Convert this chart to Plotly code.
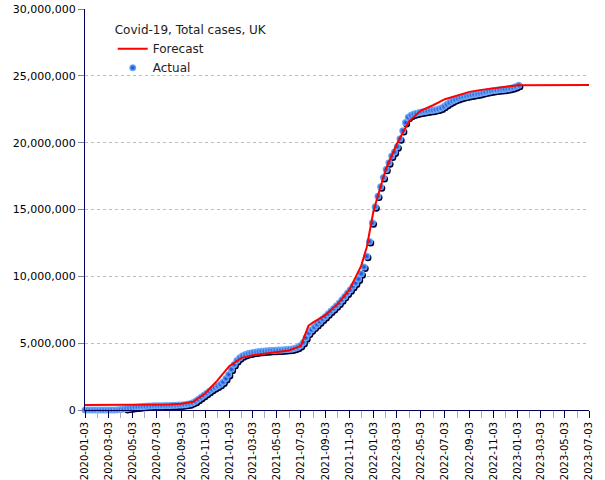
import pandas as pd
import plotly.graph_objects as go

# ---------------- data ----------------
actual_start = "2020-01-03"          # weekly observations (Fridays)
actual_millions = [
    # 2020
    0, 0, 0, 0, 0,
    0, 0, 0, 0,
    0.0002, 0.0008, 0.004, 0.015,
    0.038, 0.07, 0.11, 0.14,
    0.17, 0.2, 0.23, 0.25, 0.27,
    0.28, 0.29, 0.30, 0.31,
    0.315, 0.32, 0.325, 0.33, 0.335,
    0.34, 0.35, 0.36, 0.37,
    0.38, 0.40, 0.43, 0.47,
    0.55, 0.66, 0.80, 0.95, 1.10,
    1.25, 1.40, 1.55, 1.68,
    1.80, 1.93, 2.10, 2.35,
    # 2021
    2.65, 3.05, 3.40, 3.70, 3.90,
    4.05, 4.15, 4.22, 4.27,
    4.31, 4.34, 4.37, 4.39,
    4.41, 4.43, 4.45, 4.46, 4.47,
    4.48, 4.49, 4.50, 4.52,
    4.54, 4.57, 4.62, 4.69,
    4.82, 5.05, 5.40, 5.75, 6.00,
    6.20, 6.40, 6.60, 6.80,
    7.00, 7.20, 7.40, 7.60,
    7.80, 8.00, 8.25, 8.50, 8.75,
    9.00, 9.25, 9.50, 9.80,
    10.2, 10.7, 11.5, 12.6, 14.0,
    # 2022
    15.2, 16.0, 16.7, 17.4,
    18.0, 18.5, 19.0, 19.3,
    19.7, 20.3, 20.9, 21.5,
    21.9, 22.05, 22.15, 22.2, 22.25,
    22.3, 22.33, 22.36, 22.4,
    22.43, 22.47, 22.52, 22.6,
    22.72, 22.87, 23.0, 23.12, 23.22,
    23.3, 23.37, 23.43, 23.48,
    23.52, 23.56, 23.6, 23.64, 23.68,
    23.73, 23.78, 23.83, 23.87,
    23.9, 23.93, 23.96, 23.98,
    24.0, 24.03, 24.07, 24.12, 24.2,
    # 2023
    24.3,
]

forecast_dates = [
    "2020-01-03", "2020-04-03", "2020-07-03", "2020-08-03", "2020-09-03",
    "2020-10-03", "2020-11-03", "2020-12-03", "2021-01-03", "2021-02-03",
    "2021-03-03", "2021-04-03", "2021-05-03", "2021-06-03", "2021-07-03",
    "2021-07-22", "2021-08-03", "2021-09-03", "2021-10-03", "2021-11-03",
    "2021-12-03", "2021-12-17", "2022-01-03", "2022-02-03", "2022-03-03",
    "2022-04-03", "2022-05-03", "2022-06-03", "2022-07-03", "2022-08-03",
    "2022-09-03", "2022-10-03", "2022-11-03", "2022-12-03", "2023-01-03",
    "2023-07-03",
]
forecast_millions = [
    0.37, 0.37, 0.39, 0.41, 0.46,
    0.62, 1.25, 2.2, 3.3, 3.9,
    4.1, 4.22, 4.32, 4.45, 4.8,
    6.3, 6.55, 7.1, 7.9, 9.0,
    10.8, 12.2, 14.9, 18.0, 19.9,
    21.6, 22.4, 22.8, 23.25, 23.55,
    23.8, 23.95, 24.05, 24.18, 24.3,
    24.32,
]

tick_dates = [
    "2020-01-03", "2020-03-03", "2020-05-03", "2020-07-03", "2020-09-03",
    "2020-11-03", "2021-01-03", "2021-03-03", "2021-05-03", "2021-07-03",
    "2021-09-03", "2021-11-03", "2022-01-03", "2022-03-03", "2022-05-03",
    "2022-07-03", "2022-09-03", "2022-11-03", "2023-01-03", "2023-03-03",
    "2023-05-03", "2023-07-03",
]
y_ticks = [0, 5_000_000, 10_000_000, 15_000_000, 20_000_000, 25_000_000, 30_000_000]

legend_title = "Covid-19, Total cases, UK"
forecast_name = "Forecast"
actual_name = "Actual"

# ---------------- build ----------------
actual_dates = pd.date_range(actual_start, periods=len(actual_millions), freq="7D")
actual = [v * 1_000_000 for v in actual_millions]
forecast = [v * 1_000_000 for v in forecast_millions]

x_range = [pd.Timestamp("2020-01-03"), pd.Timestamp("2023-07-03")]
y_range = [0, 30_000_000]
# shadow layer: same data, drawn through a slightly shifted hidden base scale
shadow_dx = pd.Timedelta(days=3)
shadow_dy = 110_000

NAVY = "#00005a"
FONT = "DejaVu Sans"

fig = go.Figure()

# shadow (base axes x/y, hidden, shifted scale) -> drawn underneath
fig.add_trace(go.Scatter(
    x=actual_dates, y=actual, mode="markers",
    xaxis="x", yaxis="y",
    marker=dict(size=7, color="#000030", line=dict(width=0)),
    showlegend=False, hoverinfo="skip", cliponaxis=False,
))
# main marks on the visible overlay axes x2/y2
fig.add_trace(go.Scatter(
    x=actual_dates, y=actual, mode="markers", name=actual_name,
    xaxis="x2", yaxis="y2",
    marker=dict(size=7, color="#7ab8ff",
                gradient=dict(type="radial", color="#0d3fc8"),
                line=dict(width=0)),
    legendrank=2, cliponaxis=False,
))
fig.add_trace(go.Scatter(
    x=forecast_dates, y=forecast, mode="lines", name=forecast_name,
    xaxis="x2", yaxis="y2",
    line=dict(color="#ff0000", width=2),
    legendrank=1,
))

fig.update_layout(
    width=605, height=480,
    margin=dict(l=85, r=16, t=9, b=70, autoexpand=False),
    paper_bgcolor="white", plot_bgcolor="white",
    font=dict(family=FONT, size=11, color="#000000"),
    showlegend=True,
    legend=dict(
        x=0.055, y=0.976, xanchor="left", yanchor="top",
        bgcolor="rgba(0,0,0,0)", borderwidth=0,
        title=dict(text=legend_title, font=dict(family=FONT, size=12, color="#222222")),
        font=dict(family=FONT, size=12, color="#222222"),
        tracegroupgap=0,
    ),
    xaxis=dict(
        type="date", visible=False, automargin=False,
        range=[x_range[0] - shadow_dx, x_range[1] - shadow_dx],
    ),
    yaxis=dict(
        visible=False, automargin=False,
        range=[y_range[0] + shadow_dy, y_range[1] + shadow_dy],
    ),
    xaxis2=dict(
        type="date", overlaying="x", anchor="y2", side="bottom",
        range=x_range, automargin=False,
        tickvals=tick_dates, tickformat="%Y-%m-%d", tickangle=-90,
        tickfont=dict(family=FONT, size=10, color="#000000"),
        ticks="outside", ticklen=7, tickcolor=NAVY, tickwidth=1,
        minor=dict(ticks="outside", ticklen=7, tickcolor="#a8a8c8",
                   tick0="2020-02-03", dtick="M2", showgrid=False),
        showline=True, linecolor=NAVY, linewidth=1,
        showgrid=False, zeroline=False,
    ),
    yaxis2=dict(
        overlaying="y", anchor="x2", side="left",
        range=y_range, tickvals=y_ticks, tickformat=",d", automargin=False,
        tickfont=dict(family=FONT, size=11, color="#000000"),
        ticks="outside", ticklen=6, tickcolor="#8080a0",
        showline=True, linecolor=NAVY, linewidth=1,
        showgrid=True, gridcolor="#bdbdbd", griddash="dot", gridwidth=1,
        zeroline=False,
    ),
)

fig.write_html(
    "out.html",
    config={"displayModeBar": False},
    post_script="document.body.style.margin='0';",
)
